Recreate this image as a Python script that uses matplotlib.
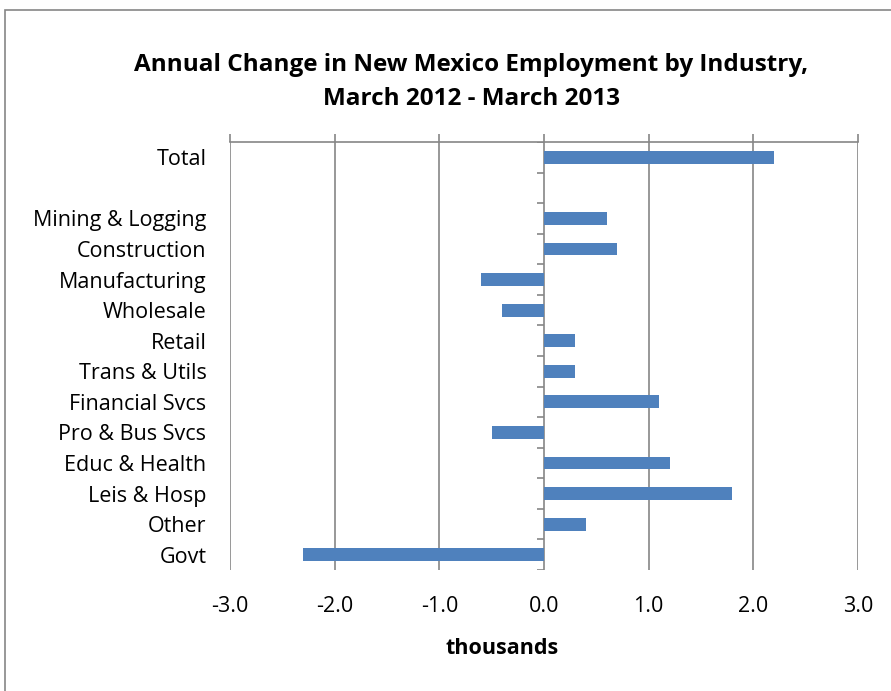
import numpy as np
import matplotlib.pyplot as plt
from matplotlib.patches import Rectangle

# data (thousands of jobs, March 2012 - March 2013)
categories = ["Total", "", "Mining & Logging", "Construction", "Manufacturing",
              "Wholesale", "Retail", "Trans & Utils", "Financial Svcs",
              "Pro & Bus Svcs", "Educ & Health", "Leis & Hosp", "Other", "Govt"]
values = [2.2, np.nan, 0.6, 0.7, -0.6, -0.4, 0.3, 0.3, 1.1, -0.5, 1.2, 1.8, 0.4, -2.3]
xticks = [-3.0, -2.0, -1.0, 0.0, 1.0, 2.0, 3.0]

plt.rcParams['font.family'] = ['Open Sans', 'DejaVu Sans']
grey = '#868686'
blue = '#4f81bd'

fig = plt.figure(figsize=(8.91, 6.91), dpi=100)
ax = fig.add_axes([230/891, 1 - 570/691, (858 - 230)/891, (570 - 142)/691])

pos = np.arange(len(categories))
ax.barh(pos, values, height=0.42, color=blue, zorder=3)
ax.set_ylim(len(categories) - 0.5, -0.5)
ax.set_xlim(-3, 3)

# gridlines and top axis line
ax.set_xticks(xticks)
ax.set_xticklabels([f"{v:.1f}" for v in xticks], fontsize=15.5)
ax.grid(axis='x', color=grey, linewidth=1.2, zorder=0)
ax.tick_params(axis='x', top=True, bottom=False, labeltop=False, labelbottom=True,
               direction='out', length=6, color=grey, width=1.2, pad=13)
for s in ['left', 'right', 'bottom']:
    ax.spines[s].set_visible(False)
ax.spines['top'].set_color(grey)
ax.spines['top'].set_linewidth(1.2)

# category labels
ax.set_yticks(pos)
ax.set_yticklabels(categories, fontsize=15.5)
ax.tick_params(axis='y', length=0, pad=17)

# small category boundary ticks on the zero line
edges = np.arange(len(categories) + 1) - 0.5
ax.hlines(edges, -0.07, 0, color=grey, linewidth=1.2, zorder=2)

ax.set_xlabel("thousands", fontsize=15.5, fontweight='bold', va='center')
ax.xaxis.set_label_coords((502 - 230)/628, -(649 - 570)/428)
fig.text(0.529, 1 - 82/691, "Annual Change in New Mexico Employment by Industry,\nMarch 2012 - March 2013",
         ha='center', va='center', fontsize=17.5, fontweight='bold', linespacing=1.6)

fig.patches.append(Rectangle((5/891, -0.1), 1.2, 1.1 - 10/691, transform=fig.transFigure,
                             fill=False, edgecolor=grey, linewidth=1.2))

fig.savefig("out.png", dpi=100)
